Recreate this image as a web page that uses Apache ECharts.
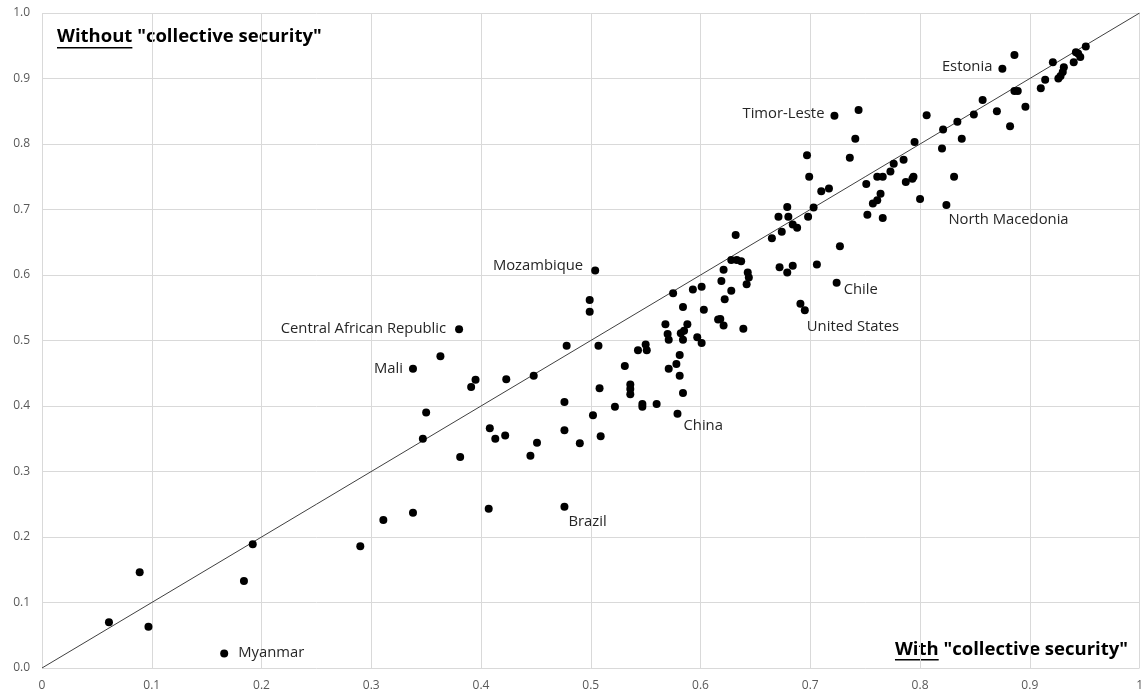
<!DOCTYPE html>
<html>
<head>
<meta charset="utf-8">
<script src="https://cdn.jsdelivr.net/npm/echarts@6/dist/echarts.min.js"></script>
<style>
html,body{margin:0;padding:0;background:#fff;}
#chart{width:1146px;height:693px;}
</style>
</head>
<body>
<div id="chart"></div>
<script>
// "With collective security" (x) values of unlabeled countries
const withCS = [
  0.061, 0.089, 0.097, 0.184, 0.192, 0.290, 0.311, 0.338, 0.407,
  0.363, 0.395, 0.391, 0.423, 0.448, 0.350, 0.347, 0.381, 0.408, 0.413, 0.422, 0.451, 0.445,
  0.478, 0.476, 0.476, 0.508, 0.502, 0.522, 0.490, 0.509,
  0.499, 0.499, 0.507, 0.575, 0.593, 0.601, 0.584, 0.603, 0.619, 0.621, 0.628, 0.633, 0.637,
  0.643, 0.644, 0.642, 0.628, 0.622, 0.616, 0.618, 0.621, 0.639, 0.568, 0.588, 0.570, 0.571,
  0.582, 0.585, 0.584, 0.597, 0.601, 0.550, 0.551, 0.543, 0.581, 0.578, 0.571, 0.581, 0.584,
  0.531, 0.536, 0.536, 0.536, 0.547, 0.547, 0.560,
  0.741, 0.736, 0.697, 0.699, 0.710, 0.717, 0.679, 0.703, 0.671, 0.680, 0.698, 0.684, 0.688,
  0.674, 0.665, 0.632, 0.672, 0.684, 0.679, 0.706, 0.727, 0.691,
  0.744, 0.806, 0.795, 0.785, 0.776, 0.773, 0.761, 0.766, 0.751, 0.794, 0.793, 0.787, 0.800,
  0.764, 0.761, 0.757, 0.752, 0.766,
  0.886, 0.951, 0.942, 0.946, 0.940, 0.944, 0.921, 0.931, 0.930, 0.926, 0.928, 0.914, 0.910,
  0.886, 0.889, 0.896, 0.882, 0.870, 0.857, 0.849, 0.834, 0.821, 0.838, 0.820, 0.831
];
// "Without collective security" (y) values of unlabeled countries
const withoutCS = [
  0.070, 0.146, 0.063, 0.133, 0.189, 0.186, 0.226, 0.237, 0.243,
  0.476, 0.440, 0.429, 0.441, 0.446, 0.390, 0.350, 0.322, 0.366, 0.350, 0.355, 0.344, 0.324,
  0.492, 0.406, 0.363, 0.427, 0.386, 0.399, 0.343, 0.354,
  0.562, 0.544, 0.492, 0.572, 0.578, 0.582, 0.551, 0.547, 0.591, 0.608, 0.623, 0.623, 0.621,
  0.604, 0.596, 0.586, 0.576, 0.563, 0.532, 0.533, 0.523, 0.518, 0.525, 0.525, 0.510, 0.501,
  0.511, 0.515, 0.501, 0.505, 0.496, 0.494, 0.485, 0.485, 0.478, 0.464, 0.457, 0.446, 0.420,
  0.461, 0.433, 0.426, 0.418, 0.403, 0.399, 0.403,
  0.808, 0.779, 0.783, 0.750, 0.728, 0.732, 0.704, 0.703, 0.689, 0.689, 0.689, 0.677, 0.672,
  0.666, 0.656, 0.661, 0.612, 0.614, 0.604, 0.616, 0.644, 0.556,
  0.852, 0.844, 0.803, 0.776, 0.770, 0.758, 0.750, 0.750, 0.739, 0.750, 0.747, 0.742, 0.716,
  0.724, 0.714, 0.709, 0.692, 0.687,
  0.936, 0.949, 0.940, 0.933, 0.925, 0.938, 0.925, 0.917, 0.910, 0.900, 0.904, 0.898, 0.885,
  0.881, 0.881, 0.857, 0.827, 0.850, 0.867, 0.845, 0.834, 0.822, 0.808, 0.793, 0.750
];
// Labeled countries
const labeledNames = ["Estonia", "Timor-Leste", "North Macedonia", "Mozambique", "Central African Republic",
  "Mali", "Chile", "United States", "China", "Brazil", "Myanmar"];
const labeledWith    = [0.875, 0.722, 0.824, 0.504, 0.380, 0.338, 0.724, 0.695, 0.579, 0.476, 0.166];
const labeledWithout = [0.915, 0.843, 0.707, 0.607, 0.517, 0.457, 0.588, 0.546, 0.388, 0.246, 0.022];

// Diagonal reference line y = x
const diagX = [0, 1];
const diagY = [0, 1];

const titleWithout = ["Without", ' "collective security"'];
const titleWith = ["With", ' "collective security"'];

// label placement (style only)
const labelPlace = {
  "Estonia": {align: 'right', offset: [-10, -2]},
  "Timor-Leste": {align: 'right', offset: [-10, -2]},
  "Mozambique": {align: 'right', offset: [-12, -5]},
  "Central African Republic": {align: 'right', offset: [-13, -1]},
  "Mali": {align: 'right', offset: [-10, 0]},
  "North Macedonia": {align: 'left', offset: [2, 15]},
  "Chile": {align: 'left', offset: [7, 7]},
  "United States": {align: 'left', offset: [2, 16]},
  "China": {align: 'left', offset: [6, 12]},
  "Brazil": {align: 'left', offset: [4, 15]},
  "Myanmar": {align: 'left', offset: [14, -1]}
};

const chart = echarts.init(document.getElementById('chart'), null, {renderer: 'canvas'});

const plainData = withCS.map((x, i) => [x, withoutCS[i]]);
const labeledData = labeledNames.map((n, i) => {
  const p = labelPlace[n];
  return {
    name: n,
    value: [labeledWith[i], labeledWithout[i]],
    label: {
      show: true, position: 'inside', formatter: n,
      align: p.align, verticalAlign: 'middle', offset: p.offset,
      color: '#262626', fontSize: 14.8, fontFamily: 'Open Sans'
    }
  };
});

// measure title text widths for underline
const ctx = document.createElement('canvas').getContext('2d');
const titleFont = 'bold 18.5px "Open Sans"';
ctx.font = titleFont;
const wWithout = ctx.measureText(titleWithout[0]).width;
const wWith = ctx.measureText(titleWith[0]).width;
const wWithFull = ctx.measureText(titleWith[0] + titleWith[1]).width;

const topX = 57, topY = 37;
const botRight = 1128, botY = 650;
const botX = botRight - wWithFull;

chart.setOption({
  animation: false,
  backgroundColor: '#ffffff',
  grid: {left: 42, right: 4, top: 13, bottom: 25, containLabel: false},
  xAxis: {
    type: 'value', min: 0, max: 1, interval: 0.1,
    axisLine: {show: false}, axisTick: {show: false},
    splitLine: {show: true, lineStyle: {color: '#d9d9d9', width: 1}},
    axisLabel: {color: '#595959', fontSize: 12, fontFamily: 'Open Sans', margin: 12,
      formatter: v => (Math.abs(v) < 1e-9 ? '0' : (Math.abs(v - 1) < 1e-9 ? '1' : v.toFixed(1)))}
  },
  yAxis: {
    type: 'value', min: 0, max: 1, interval: 0.1,
    axisLine: {show: false}, axisTick: {show: false},
    splitLine: {show: true, lineStyle: {color: '#d9d9d9', width: 1}},
    axisLabel: {color: '#595959', fontSize: 12, fontFamily: 'Open Sans', margin: 12,
      formatter: v => v.toFixed(1)}
  },
  series: [
    {
      type: 'line', data: diagX.map((x, i) => [x, diagY[i]]),
      symbol: 'none', lineStyle: {color: '#404040', width: 1}, z: 1, silent: true
    },
    {
      type: 'scatter', data: plainData, symbol: 'circle', symbolSize: 8,
      itemStyle: {color: '#000000', opacity: 1}, z: 2
    },
    {
      type: 'scatter', data: labeledData, symbol: 'circle', symbolSize: 8,
      itemStyle: {color: '#000000', opacity: 1}, z: 3
    }
  ],
  graphic: [
    {type: 'text', x: topX, y: topY, style: {text: titleWithout[0] + titleWithout[1], font: titleFont, fill: '#000', textAlign: 'left', textVerticalAlign: 'middle', verticalAlign: 'middle'}},
    {type: 'rect', shape: {x: topX, y: 47, width: wWithout, height: 1.6}, style: {fill: '#000'}},
    {type: 'text', x: botX, y: botY, style: {text: titleWith[0] + titleWith[1], font: titleFont, fill: '#000', textAlign: 'left', textVerticalAlign: 'middle', verticalAlign: 'middle'}},
    {type: 'rect', shape: {x: botX, y: 659, width: wWith, height: 1.6}, style: {fill: '#000'}}
  ]
});
</script>
</body>
</html>
